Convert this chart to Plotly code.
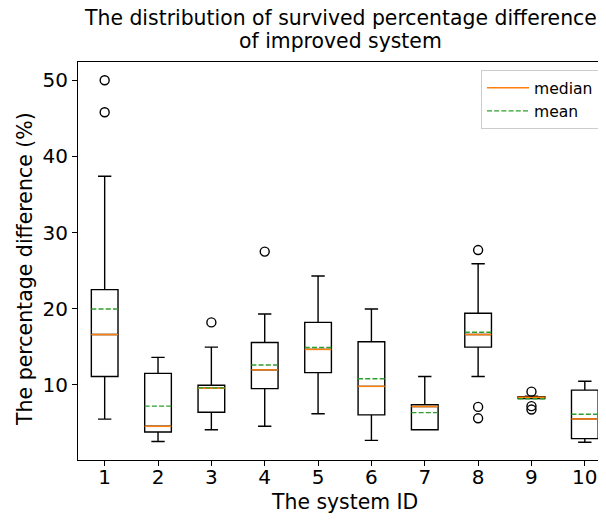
import plotly.graph_objects as go

systems = [1, 2, 3, 4, 5, 6, 7, 8, 9, 10]
q1 = [11.1, 3.8, 6.4, 9.5, 11.6, 6.05, 4.1, 14.95, 8.2, 2.93]
medians = [16.6, 4.55, 9.55, 11.97, 14.65, 9.8, 7.15, 16.6, 8.37, 5.52]
q3 = [22.5, 11.5, 9.95, 15.55, 18.2, 15.65, 7.4, 19.4, 8.45, 9.3]
lower = [5.5, 2.55, 4.1, 4.55, 6.2, 2.7, 4.1, 11.1, 8.2, 2.45]
upper = [37.4, 13.6, 14.95, 19.3, 24.3, 19.95, 11.1, 25.9, 8.5, 10.47]
means = [19.95, 7.2, 9.6, 12.6, 14.9, 10.8, 6.35, 16.9, 8.16, 6.13]
outlier_x = [1, 1, 3, 4, 8, 8, 8, 9, 9, 9]
outlier_y = [50.0, 45.8, 18.2, 27.5, 27.7, 7.1, 5.6, 9.1, 7.2, 6.75]
tick_vals = [10, 20, 30, 40, 50]

title_lines = ["The distribution of survived percentage difference", "of improved system"]
x_title = "The system ID"
y_title = "The percentage difference (%)"

FONT = "DejaVu Sans"
BOX_W = 0.5
OFF = 8  # page body margin in the browser
W, H = 598, 512
ML, MT = 78 - OFF, 62 - OFF
PLOT_BOTTOM = 460 - OFF
MR = 0
MB = H - PLOT_BOTTOM
PH = H - MT - MB
PW = W - ML - MR


def py(ref_px):
    return 1 - (ref_px - OFF - MT) / PH


def pxx(ref_px):
    return (ref_px - OFF - ML) / PW


fig = go.Figure()
fig.add_trace(go.Box(
    x=systems, q1=q1, median=medians, q3=q3,
    lowerfence=lower, upperfence=upper,
    width=BOX_W, whiskerwidth=0.5,
    line=dict(color="black", width=1.4),
    fillcolor="rgba(255,255,255,0)",
    boxpoints=False, showlegend=False, hoverinfo="skip",
))


def seg(vals):
    xs, ys = [], []
    for s, v in zip(systems, vals):
        xs += [s - BOX_W / 2, s + BOX_W / 2, None]
        ys += [v, v, None]
    return xs, ys


mx, my = seg(medians)
fig.add_trace(go.Scatter(x=mx, y=my, mode="lines", name="median",
                         line=dict(color="#ff7f0e", width=1.5), hoverinfo="skip"))
ax, ay = seg(means)
fig.add_trace(go.Scatter(x=ax, y=ay, mode="lines", name="mean",
                         line=dict(color="#2ca02c", width=1.4, dash="5px,2.2px"),
                         hoverinfo="skip"))
fig.add_trace(go.Scatter(x=outlier_x, y=outlier_y, mode="markers", showlegend=False,
                         marker=dict(symbol="circle-open", size=9,
                                     line=dict(color="black", width=1.4), color="black"),
                         hoverinfo="skip"))

annots = [
    dict(text=title_lines[0], x=pxx(340), y=py(18)),
    dict(text=title_lines[1], x=pxx(340), y=py(41)),
    dict(text=x_title, x=pxx(344), y=py(502)),
]
for a in annots:
    fig.add_annotation(text=a["text"], x=a["x"], y=a["y"], xref="paper", yref="paper",
                       xanchor="center", yanchor="middle", showarrow=False, borderpad=0,
                       font=dict(family=FONT, size=20.4, color="black"))
fig.add_annotation(text=y_title, x=pxx(25), y=py(269), xref="paper", yref="paper",
                   xanchor="center", yanchor="middle", showarrow=False, textangle=-90,
                   font=dict(family=FONT, size=20.5, color="black"))

fig.update_layout(
    width=W, height=H,
    margin=dict(l=ML, r=MR, t=MT, b=MB, autoexpand=False),
    paper_bgcolor="white", plot_bgcolor="white",
    font=dict(family=FONT, size=20, color="black"),
    showlegend=True,
    legend=dict(x=pxx(481), y=py(70), xanchor="left", yanchor="top",
                bgcolor="white", bordercolor="#cccccc", borderwidth=1,
                itemwidth=42,
                font=dict(family=FONT, size=15.6, color="black")),
    xaxis=dict(range=[0.5, 10.397], tickmode="array", tickvals=systems,
               ticks="outside", ticklen=5, tickwidth=1.1, tickcolor="black",
               ticklabelstandoff=-6,
               showline=True, linecolor="black", linewidth=1.1, mirror=True,
               showgrid=False, zeroline=False, automargin=False),
    yaxis=dict(range=[0.125, 52.4], tickmode="array", tickvals=tick_vals,
               ticks="outside", ticklen=5, tickwidth=1.1, tickcolor="black",
               showline=True, linecolor="black", linewidth=1.1, mirror=False,
               showgrid=False, zeroline=False, automargin=False),
)

fig.write_html("out.html")
